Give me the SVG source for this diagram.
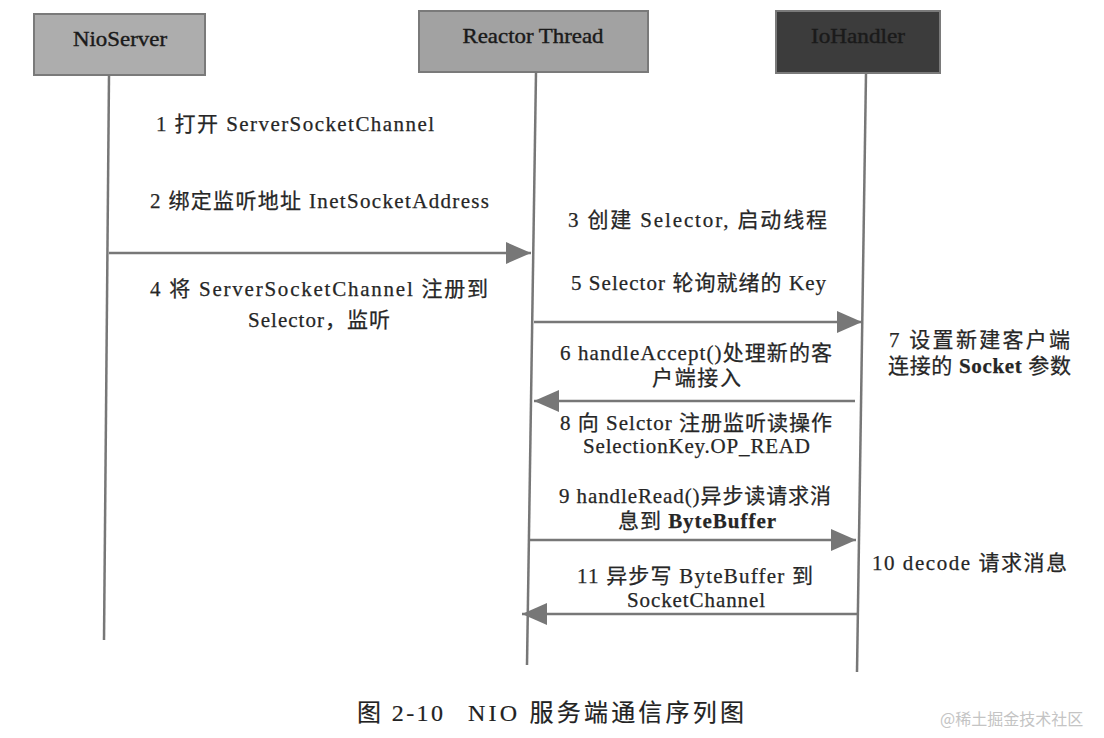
<svg xmlns="http://www.w3.org/2000/svg" width="1104" height="738" viewBox="0 0 1104 738">
<defs>
<marker id="ah" markerUnits="userSpaceOnUse" markerWidth="26" markerHeight="24" refX="25" refY="11" orient="auto">
<path d="M0,0 L25,11 L0,22 z" fill="#777"/>
</marker>
<style>
.bg{fill:#fff}
.box{stroke:#7a7a7a;stroke-width:2}
.life{stroke:#777;stroke-width:2.5;fill:none}
.msg{stroke:#777;stroke-width:2.5;fill:none;marker-end:url(#ah)}
.t{font-family:"Liberation Serif","Noto Sans CJK SC",serif;font-size:21px;fill:#262626;stroke:#262626;stroke-width:0.25}
.h{font-family:"Liberation Serif","Noto Sans CJK SC",serif;font-size:21px;fill:#1a1a1a;stroke:#1a1a1a;stroke-width:0.4;text-anchor:middle}
.cap{font-family:"Liberation Serif","Noto Sans CJK SC",serif;font-size:24px;fill:#222;stroke:#222;stroke-width:0.2}
.b{font-weight:bold}
.wm{font-family:"Noto Sans CJK SC",sans-serif;font-size:16px;fill:#c4c4c4}
</style>
</defs>
<rect class="bg" x="0" y="0" width="1104" height="738"/>

<g id="nioserver">
<rect class="box" x="34" y="14" width="171" height="61" fill="#adadad"/>
<text class="h" x="120" y="46" textLength="94" lengthAdjust="spacingAndGlyphs">NioServer</text>
</g>
<g id="reactor">
<rect class="box" x="419" y="11" width="229" height="61" fill="#a2a2a2" stroke="#999"/>
<text class="h" x="533" y="43" textLength="141" lengthAdjust="spacingAndGlyphs">Reactor Thread</text>
</g>
<g id="iohandler">
<rect class="box" x="776" y="11" width="164" height="62" fill="#3c3c3c" stroke="#555"/>
<text class="h" x="858" y="43" textLength="94" lengthAdjust="spacingAndGlyphs" fill="#0a0a0a" stroke="#0a0a0a">IoHandler</text>
</g>

<g id="lifelines">
<line class="life" x1="109" y1="75" x2="104" y2="640"/>
<line class="life" x1="536" y1="72" x2="527" y2="665"/>
<line class="life" x1="866" y1="73" x2="857" y2="672"/>
</g>

<g id="connectors">
<line class="msg" x1="109" y1="253" x2="531" y2="253"/>
<line class="msg" x1="534" y1="322" x2="862" y2="322"/>
<line class="msg" x1="855" y1="401" x2="534" y2="401"/>
<line class="msg" x1="528" y1="540" x2="856" y2="540"/>
<line class="msg" x1="857" y1="614" x2="522" y2="614"/>
</g>

<g id="labels">
<text class="t" x="156" y="131" textLength="278" lengthAdjust="spacing">1  打开  ServerSocketChannel</text>
<text class="t" x="150" y="208" textLength="339" lengthAdjust="spacing">2 绑定监听地址 InetSocketAddress</text>
<text class="t" x="568" y="227" textLength="259" lengthAdjust="spacing">3 创建 Selector, 启动线程</text>
<text class="t" x="571" y="290" textLength="255" lengthAdjust="spacing">5 Selector 轮询就绪的 Key</text>
<text class="t" x="150" y="296" textLength="338" lengthAdjust="spacing">4 将 ServerSocketChannel 注册到</text>
<text class="t" x="248" y="327" textLength="142" lengthAdjust="spacing">Selector，监听</text>
<text class="t" x="889" y="347" textLength="181" lengthAdjust="spacing">7 设置新建客户端</text>
<text class="t" x="888" y="373" textLength="183" lengthAdjust="spacing">连接的 <tspan class="b">Socket</tspan> 参数</text>
<text class="t" x="560" y="360" textLength="272" lengthAdjust="spacing">6 handleAccept()处理新的客</text>
<text class="t" x="652" y="385" textLength="89" lengthAdjust="spacing">户端接入</text>
<text class="t" x="560" y="430" textLength="272" lengthAdjust="spacing">8 向 Selctor 注册监听读操作</text>
<text class="t" x="583" y="453" textLength="227" lengthAdjust="spacing">SelectionKey.OP_READ</text>
<text class="t" x="559" y="503" textLength="272" lengthAdjust="spacing">9 handleRead()异步读请求消</text>
<text class="t" x="618" y="528" textLength="158" lengthAdjust="spacing">息到 <tspan class="b">ByteBuffer</tspan></text>
<text class="t" x="872" y="570" textLength="195" lengthAdjust="spacing">10 decode  请求消息</text>
<text class="t" x="577" y="583" textLength="236" lengthAdjust="spacing">11  异步写 ByteBuffer 到</text>
<text class="t" x="627" y="607" textLength="138" lengthAdjust="spacing">SocketChannel</text>
</g>

<g id="caption">
<text class="cap" x="357" y="721" textLength="86" lengthAdjust="spacing">图 2-10</text>
<text class="cap" x="468" y="721" textLength="276" lengthAdjust="spacing">NIO 服务端通信序列图</text>
</g>
<text class="wm" x="940" y="725">@稀土掘金技术社区</text>
</svg>
